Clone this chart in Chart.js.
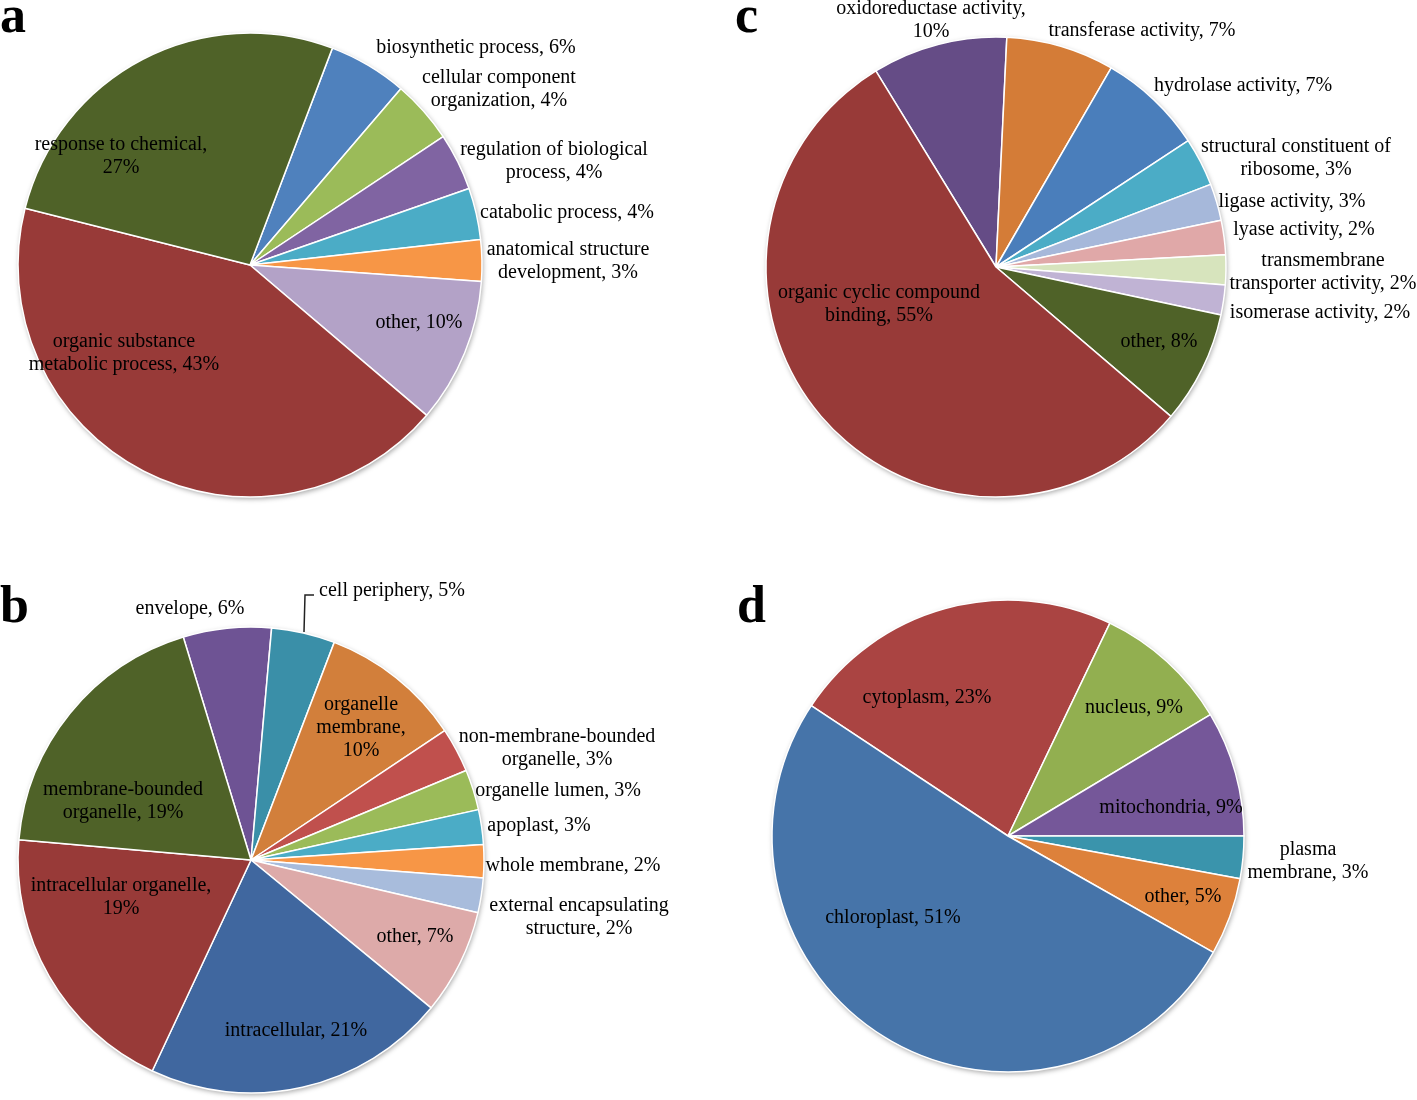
<!DOCTYPE html>
<html lang="en">
<head>
<meta charset="UTF-8">
<title>GO annotation pie charts</title>
<style>
  body { margin: 0; background: #fff; }
  #wrap { position: relative; width: 1417px; height: 1100px; }
  #wrap canvas { position: absolute; left: 0; top: 0; }
</style>
<script src="https://cdn.jsdelivr.net/npm/chart.js"></script>
</head>
<body>
<div id="wrap">
  <canvas id="pieA" width="1417" height="1100"></canvas>
  <canvas id="pieB" width="1417" height="1100"></canvas>
  <canvas id="pieC" width="1417" height="1100"></canvas>
  <canvas id="pieD" width="1417" height="1100"></canvas>
</div>
<script>
// (a) biological process
const bpCats = ['biosynthetic process', 'cellular component organization', 'regulation of biological process',
  'catabolic process', 'anatomical structure development', 'other', 'organic substance metabolic process',
  'response to chemical'];
const bpPct = ['6%', '4%', '4%', '4%', '3%', '10%', '43%', '27%'];
const bpValues = [5.5, 4.4, 4.0, 3.6, 2.9, 10.1, 42.8, 26.9];

// (b) cellular component
const ccCats = ['envelope', 'cell periphery', 'organelle membrane', 'non-membrane-bounded organelle',
  'organelle lumen', 'apoplast', 'whole membrane', 'external encapsulating structure', 'other',
  'intracellular', 'intracellular organelle', 'membrane-bounded organelle'];
const ccPct = ['6%', '5%', '10%', '3%', '3%', '3%', '2%', '2%', '7%', '21%', '19%', '19%'];
const ccValues = [6.1, 4.4, 9.8, 3.1, 2.8, 2.4, 2.3, 2.4, 7.3, 21.0, 19.4, 18.9];

// (c) molecular function
const mfCats = ['oxidoreductase activity', 'transferase activity', 'hydrolase activity',
  'structural constituent of ribosome', 'ligase activity', 'lyase activity',
  'transmembrane transporter activity', 'isomerase activity', 'other', 'organic cyclic compound binding'];
const mfPct = ['10%', '7%', '7%', '3%', '3%', '2%', '2%', '2%', '8%', '55%'];
const mfValues = [9.5, 7.6, 7.4, 3.4, 2.6, 2.4, 2.1, 2.1, 7.9, 55.0];

// (d) subcellular location
const slCats = ['cytoplasm', 'nucleus', 'mitochondria', 'plasma membrane', 'other', 'chloroplast'];
const slPct = ['23%', '9%', '9%', '3%', '5%', '51%'];
const slValues = [22.8, 9.3, 8.6, 2.9, 5.3, 51.1];

const W = 1417, H = 1100;
const FONT = '20px "Liberation Serif", "Times New Roman", serif';

// soft shadow under the pie + text labels
const pieDecor = {
  id: 'pieDecor',
  beforeDatasetsDraw(chart) {
    const a = chart.getDatasetMeta(0).data[0];
    const ctx = chart.ctx;
    ctx.save();
    ctx.beginPath();
    ctx.arc(a.x, a.y, a.outerRadius, 0, Math.PI * 2);
    ctx.fillStyle = '#fff';
    ctx.shadowColor = 'rgba(0,0,0,0.35)';
    ctx.shadowBlur = 5;
    ctx.shadowOffsetX = 1;
    ctx.shadowOffsetY = 2;
    ctx.fill();
    ctx.restore();
  },
  afterDraw(chart, args, opts) {
    const ctx = chart.ctx;
    ctx.save();
    ctx.fillStyle = '#000';
    ctx.font = 'bold 52px "Liberation Serif", "Times New Roman", serif';
    ctx.textAlign = 'left';
    ctx.textBaseline = 'alphabetic';
    ctx.fillText(opts.letter[0], opts.letter[1], opts.letter[2]);

    ctx.font = FONT;
    ctx.textAlign = 'center';
    ctx.textBaseline = 'middle';
    opts.spots.forEach((s, i) => {
      const words = (opts.cats[i] + ', ' + opts.pct[i]).split(' ');
      const lines = [];
      let k = 0;
      (s[2] || []).forEach(n => { lines.push(words.slice(k, k + n).join(' ')); k += n; });
      lines.push(words.slice(k).join(' '));
      lines.forEach((ln, j) => ctx.fillText(ln, s[0], s[1] + j * 23));
    });
    if (opts.leader) {
      ctx.strokeStyle = '#222';
      ctx.lineWidth = 1.5;
      ctx.beginPath();
      opts.leader.forEach((p, j) => j ? ctx.lineTo(p[0], p[1]) : ctx.moveTo(p[0], p[1]));
      ctx.stroke();
    }
    ctx.restore();
  }
};

function makePie(id, cfg) {
  const half = 238;
  return new Chart(document.getElementById(id), {
    type: 'pie',
    data: {
      labels: cfg.cats,
      datasets: [{
        data: cfg.values,
        backgroundColor: cfg.colors,
        borderColor: '#fff',
        borderWidth: 1.5
      }]
    },
    options: {
      responsive: false,
      animation: false,
      radius: cfg.r,
      rotation: cfg.rotation,
      layout: {
        padding: {
          left: cfg.cx - half, right: W - cfg.cx - half,
          top: cfg.cy - half, bottom: H - cfg.cy - half
        }
      },
      plugins: {
        legend: { display: false },
        tooltip: { enabled: false },
        pieDecor: { letter: cfg.letter, cats: cfg.cats, pct: cfg.pct, spots: cfg.spots, leader: cfg.leader }
      }
    },
    plugins: [pieDecor]
  });
}

makePie('pieA', {
  cats: bpCats, pct: bpPct, values: bpValues,
  colors: ['#4F81BD', '#9BBB59', '#8064A2', '#4BACC6', '#F79646', '#B3A2C7', '#983A38', '#4F6228'],
  cx: 250, cy: 265, r: 232, rotation: 20.8,
  letter: ['a', 0, 32],
  spots: [[476, 48], [499, 78, [2]], [554, 150, [3]], [567, 213], [568, 250, [2]],
    [419, 323], [124, 342, [2]], [121, 145, [3]]]
});

makePie('pieB', {
  cats: ccCats, pct: ccPct, values: ccValues,
  colors: ['#6E5394', '#3A8FA8', '#D27F3B', '#C0504D', '#9BBB59', '#4BACC6', '#F79646', '#A8BCDC',
    '#DDAAA9', '#40679F', '#983A38', '#4F6228'],
  cx: 251, cy: 860, r: 233, rotation: -16.9,
  letter: ['b', 0, 622],
  spots: [[190, 609], [392, 591], [361, 705, [1, 1]], [557, 737, [1]], [558, 791], [539, 826],
    [573, 866], [579, 906, [2]], [415, 937], [296, 1031], [121, 886, [2]], [123, 790, [1]]],
  leader: [[314, 595], [305, 595], [304, 632]]
});

makePie('pieC', {
  cats: mfCats, pct: mfPct, values: mfValues,
  colors: ['#654C86', '#D47C37', '#4A7EBB', '#4BACC6', '#A6B8DA', '#E0A8A8', '#D7E4BD', '#C0B3D4',
    '#4F6228', '#983A38'],
  cx: 996, cy: 267, r: 230, rotation: -31.5,
  letter: ['c', 735, 32],
  spots: [[931, 9, [2]], [1142, 31], [1243, 86], [1296, 147, [3]], [1292, 202], [1304, 230],
    [1323, 261, [1]], [1320, 313], [1159, 342], [879, 293, [3]]]
});

makePie('pieD', {
  cats: slCats, pct: slPct, values: slValues,
  colors: ['#AA4442', '#92AF50', '#755799', '#3A94AC', '#DD813B', '#4674A9'],
  cx: 1008, cy: 836, r: 236, rotation: -56.5,
  letter: ['d', 737, 622],
  spots: [[927, 698], [1134, 708], [1171, 808], [1308, 850, [1]], [1183, 897], [893, 918]]
});
</script>
</body>
</html>
